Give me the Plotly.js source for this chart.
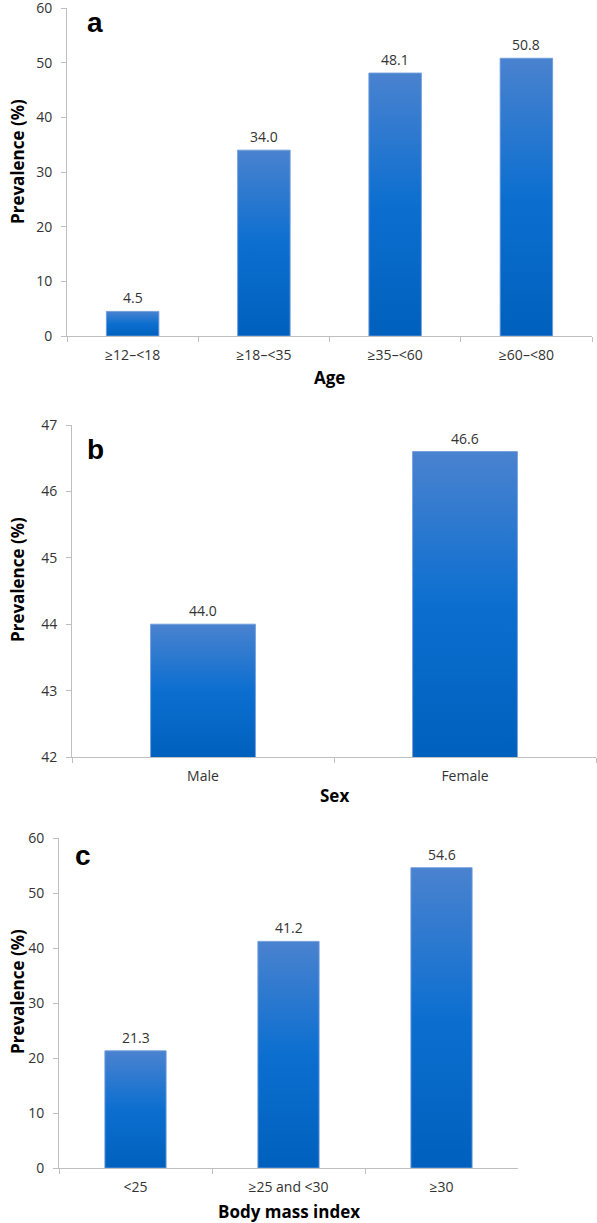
<!DOCTYPE html>
<html>
<head>
<meta charset="utf-8">
<script src="https://cdn.plot.ly/plotly-3.0.1.min.js"></script>
<style>
html,body{margin:0;padding:0;background:#fff;}
#chart{width:597px;height:1223px;}
</style>
</head>
<body>
<div id="chart"></div>
<script>
// ---- data ----
var ageCats = ['≥12–<18', '≥18–<35', '≥35–<60', '≥60–<80'];
var ageVals = [4.5, 34.0, 48.1, 50.8];
var sexCats = ['Male', 'Female'];
var sexVals = [44.0, 46.6];
var bmiCats = ['<25', '≥25 and <30', '≥30'];
var bmiVals = [21.3, 41.2, 54.6];
var panelLetters = ['a', 'b', 'c'];
var xTitles = ['Age', 'Sex', 'Body mass index'];
var yTitle = 'Prevalence (%)';

var W = 597, H = 1223;
function px(x){ return x / W; }
function py(y){ return 1 - y / H; }

var FONT = 'Open Sans, Noto Sans, sans-serif';
var AXCOL = '#bfbfbf';
var TXT = '#333333';

function bar(cats, vals, xa, ya){
  return {
    type: 'bar', x: cats, y: vals, xaxis: xa, yaxis: ya,
    width: 0.4,
    marker: {color: '#1a6fcc', line: {color: 'rgba(110,155,220,0.9)', width: 1}},
    hoverinfo: 'x+y', showlegend: false
  };
}

var data = [
  bar(ageCats, ageVals, 'x', 'y'),
  bar(sexCats, sexVals, 'x2', 'y2'),
  bar(bmiCats, bmiVals, 'x3', 'y3')
];

function xax(dom, anchor){
  return {
    domain: dom, anchor: anchor, type: 'category',
    showline: true, linecolor: AXCOL, linewidth: 1,
    ticks: 'outside', tickson: 'boundaries', ticklen: 5, tickcolor: AXCOL, tickwidth: 1,
    showgrid: false, zeroline: false,
    tickfont: {family: FONT, size: 14, color: TXT},
    ticklabelstandoff: 6, ticklabeloverflow: 'allow', fixedrange: true
  };
}
function yax(dom, anchor, range, dtick){
  return {
    domain: dom, anchor: anchor, range: range, dtick: dtick, tick0: 0,
    showline: true, linecolor: AXCOL, linewidth: 1,
    ticks: 'outside', ticklen: 5, tickcolor: AXCOL, tickwidth: 1,
    showgrid: false, zeroline: false,
    tickfont: {family: FONT, size: 14, color: TXT},
    ticklabelstandoff: 6, ticklabeloverflow: 'allow', fixedrange: true
  };
}

var annotations = [];
function valueLabels(cats, vals, xa, ya){
  for (var i = 0; i < cats.length; i++){
    annotations.push({
      xref: xa, yref: ya, x: cats[i], y: vals[i],
      text: vals[i].toFixed(1), showarrow: false,
      yanchor: 'bottom', yshift: 2,
      font: {family: FONT, size: 14, color: TXT}
    });
  }
}
valueLabels(ageCats, ageVals, 'x', 'y');
valueLabels(sexCats, sexVals, 'x2', 'y2');
valueLabels(bmiCats, bmiVals, 'x3', 'y3');

var letterPos = [[95, 22], [95, 449], [83, 855]];
var yTitlePos = [162, 580, 992];
var xTitlePos = [[329, 377], [334, 795], [289, 1211]];
for (var k = 0; k < 3; k++){
  annotations.push({
    xref: 'paper', yref: 'paper', x: px(letterPos[k][0]), y: py(letterPos[k][1]),
    xanchor: 'center', yanchor: 'middle', text: '<b>' + panelLetters[k] + '</b>', showarrow: false,
    font: {family: 'Liberation Sans, Arial, sans-serif', size: 28, color: '#000'}
  });
  annotations.push({
    xref: 'paper', yref: 'paper', x: px(17), y: py(yTitlePos[k]),
    xanchor: 'center', yanchor: 'middle', textangle: -90,
    text: '<b>' + yTitle + '</b>', showarrow: false,
    font: {family: FONT, size: 17, color: '#000'}
  });
  annotations.push({
    xref: 'paper', yref: 'paper', x: px(xTitlePos[k][0]), y: py(xTitlePos[k][1]),
    xanchor: 'center', yanchor: 'middle',
    text: '<b>' + xTitles[k] + '</b>', showarrow: false,
    font: {family: FONT, size: 17, color: '#000'}
  });
}

var layout = {
  width: W, height: H,
  margin: {l: 0, r: 0, t: 0, b: 0},
  paper_bgcolor: '#fff', plot_bgcolor: '#fff',
  xaxis: xax([px(67), px(592)], 'y'),
  yaxis: yax([py(336), py(8)], 'x', [0, 60], 10),
  xaxis2: xax([px(72), px(596)], 'y2'),
  yaxis2: yax([py(757), py(425)], 'x2', [42, 47], 1),
  xaxis3: xax([px(59), px(518)], 'y3'),
  yaxis3: yax([py(1168), py(838)], 'x3', [0, 60], 10),
  annotations: annotations,
  bargap: 0.6
};

var gd = document.getElementById('chart');
Plotly.newPlot(gd, data, layout, {displayModeBar: false, staticPlot: true}).then(function(){
  var NS = 'http://www.w3.org/2000/svg';
  var svg = gd.querySelector('svg.main-svg');
  var defs = svg.querySelector('defs');
  if (!defs){ defs = document.createElementNS(NS, 'defs'); svg.insertBefore(defs, svg.firstChild); }
  var plots = gd._fullLayout._plots;
  var n = 0;
  Object.keys(plots).forEach(function(key){
    var pi = plots[key];
    var len = pi.yaxis._length;
    var node = pi.plot.node ? pi.plot.node() : pi.plot[0][0];
    var paths = node.querySelectorAll('.bars .point path');
    paths.forEach(function(p){
      var bb = p.getBBox();
      var top = Math.max(bb.y, 0);
      var bot = Math.min(bb.y + bb.height, len);
      var id = 'bargrad' + (n++);
      var g = document.createElementNS(NS, 'linearGradient');
      g.setAttribute('id', id);
      g.setAttribute('gradientUnits', 'userSpaceOnUse');
      g.setAttribute('x1', 0); g.setAttribute('x2', 0);
      g.setAttribute('y1', top); g.setAttribute('y2', bot);
      [['0', '#4a82cf'], ['0.5', '#0c6fd0'], ['1', '#0060bd']].forEach(function(s){
        var st = document.createElementNS(NS, 'stop');
        st.setAttribute('offset', s[0]);
        st.setAttribute('stop-color', s[1]);
        g.appendChild(st);
      });
      defs.appendChild(g);
      p.style.fill = 'url(#' + id + ')';
      p.style.fillOpacity = 1;
    });
  });
});
</script>
</body>
</html>
